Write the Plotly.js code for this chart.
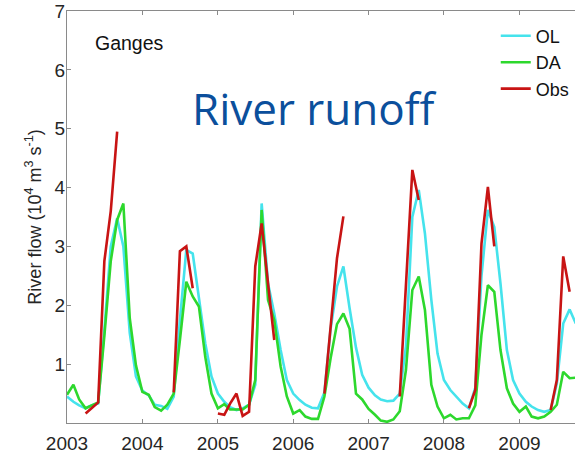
<!DOCTYPE html>
<html>
<head>
<meta charset="utf-8">
<script src="https://cdn.plot.ly/plotly-3.0.1.min.js"></script>
<style>html,body{margin:0;padding:0;background:#fff;}#chart{width:575px;height:456px;}</style>
</head>
<body>
<div id="chart"></div>
<script>
// Monthly series starting January 2003
var startYear = 2003;
var nMonths = 82;

var OL = [0.45,0.36,0.30,0.25,0.30,0.33,1.58,3.00,3.48,3.00,1.53,0.79,
          0.55,0.47,0.31,0.29,0.24,0.45,1.75,2.94,2.88,2.10,1.35,0.79,
          0.50,0.36,0.27,0.22,0.25,0.31,0.65,3.73,2.37,1.86,1.24,0.73,
          0.50,0.39,0.31,0.26,0.25,0.52,1.60,2.32,2.66,1.95,1.28,0.82,
          0.60,0.47,0.40,0.37,0.38,0.50,1.30,3.50,3.96,3.22,2.09,1.18,
          0.73,0.56,0.45,0.33,0.25,0.60,2.50,3.62,3.33,2.37,1.24,0.73,
          0.50,0.36,0.28,0.22,0.19,0.22,0.67,1.69,1.93,1.69];

var DA = [0.48,0.65,0.40,0.25,0.30,0.35,1.48,2.75,3.45,3.73,1.78,0.98,
          0.53,0.48,0.27,0.21,0.31,0.50,1.41,2.40,2.15,1.98,1.12,0.50,
          0.25,0.32,0.23,0.23,0.23,0.31,0.73,3.62,2.09,1.75,0.96,0.45,
          0.16,0.22,0.11,0.07,0.07,0.45,1.10,1.68,1.86,1.60,0.50,0.40,
          0.24,0.14,0.04,0.02,0.06,0.20,0.90,2.26,2.49,1.92,0.65,0.28,
          0.08,0.14,0.06,0.08,0.08,0.30,1.50,2.34,2.23,1.24,0.59,0.33,
          0.19,0.28,0.11,0.08,0.11,0.19,0.31,0.87,0.76,0.77];

var Obs = [null,null,null,0.16,0.26,0.35,2.75,3.60,4.95,null,null,null,
           null,null,null,null,null,0.52,2.92,3.00,2.29,null,null,null,
           0.16,0.14,0.33,0.50,0.12,0.19,2.66,3.39,2.37,1.41,null,null,
           null,null,null,null,null,0.50,1.64,2.80,3.51,null,null,null,
           null,null,null,null,null,0.45,2.37,4.30,3.79,null,null,null,
           null,null,null,null,0.25,0.56,3.05,4.01,3.00,null,null,null,
           null,null,null,null,null,0.22,0.73,2.83,2.23,null];

var yTicks = [1,2,3,4,5,6,7];
var seriesNames = ['OL','DA','Obs'];
var seriesColors = ['#45e3ec','#2dd82d','#c81414'];

var dates = [];
for (var i = 0; i < nMonths; i++) {
  var y = startYear + Math.floor(i / 12);
  var m = (i % 12) + 1;
  dates.push(y + '-' + (m < 10 ? '0' + m : m) + '-01');
}

var seriesData = [OL, DA, Obs];
var traces = seriesData.map(function (vals, k) {
  return {
    x: dates, y: vals, type: 'scatter', mode: 'lines',
    name: seriesNames[k], legendgroup: seriesNames[k],
    connectgaps: false,
    line: {color: seriesColors[k], width: 2.6}
  };
});
var axisColor = '#8a8a8a';
var layout = {
  width: 575, height: 456,
  margin: {l: 67, r: 0, t: 11, b: 33},
  paper_bgcolor: '#ffffff', plot_bgcolor: '#ffffff',
  font: {family: 'Liberation Sans, Arial, sans-serif', color: '#262626'},
  showlegend: true,
  legend: {x: 0.844, y: 0.984, xanchor: 'left', yanchor: 'top',
           bgcolor: 'rgba(0,0,0,0)', font: {size: 18, color: '#111'},
           tracegroupgap: 0, itemwidth: 30},
  xaxis: {
    type: 'date', range: ['2003-01-01', '2009-09-27'],
    tickformat: '%Y', dtick: 'M12', tick0: '2003-01-01',
    ticks: 'inside', ticklen: 4, tickcolor: axisColor,
    showline: true, linecolor: axisColor, linewidth: 1.2, mirror: 'ticks',
    showgrid: false, zeroline: false, ticklabelstandoff: 3,
    tickfont: {size: 19, color: '#262626'}
  },
  yaxis: {
    range: [0, 7], tickvals: yTicks,
    ticks: 'inside', ticklen: 4, tickcolor: axisColor,
    showline: true, linecolor: axisColor, linewidth: 1.2,
    showgrid: false, zeroline: false, ticklabelstandoff: -3,
    tickfont: {size: 19, color: '#262626'},
    title: {text: 'River flow (10<sup>4</sup> m<sup>3</sup> s<sup>-1</sup>)',
            font: {size: 18, color: '#262626'}, standoff: 8}
  },
  annotations: [
    {text: 'Ganges', xref: 'paper', yref: 'paper', x: 0.051, y: 0.922,
     xanchor: 'left', yanchor: 'middle', showarrow: false,
     font: {size: 19.5, color: '#111'}},
    {text: 'River runoff', xref: 'paper', yref: 'paper', x: 0.488, y: 0.765,
     xanchor: 'center', yanchor: 'middle', showarrow: false,
     font: {family: 'Open Sans, sans-serif', size: 44, color: '#0b4f9c'}}
  ]
};
Plotly.newPlot('chart', traces, layout, {displayModeBar: false, staticPlot: true});
</script>
</body>
</html>
